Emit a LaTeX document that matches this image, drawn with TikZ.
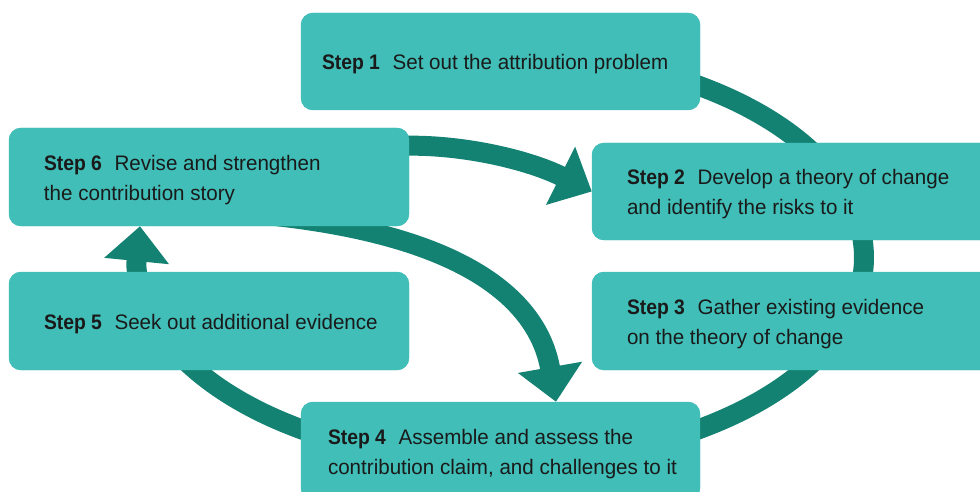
\documentclass[tikz,border=0pt]{standalone}
\usepackage{fontspec}
\setmainfont{Liberation Sans}[FakeStretch=0.98]
\newfontfamily\stepfont{Liberation Sans}[FakeStretch=0.92]
\newcommand\steplabel[1]{{\stepfont\bfseries Step #1}\hspace{0.6em}}
\usetikzlibrary{arrows.meta}
\definecolor{boxfill}{HTML}{40BEB7}
\definecolor{ringcol}{HTML}{148273}
\definecolor{ink}{HTML}{1A1A1A}
\begin{document}
\begin{tikzpicture}[x=1pt,y=-1pt,
  stepbox/.style={fill=boxfill, draw=none, rounded corners=12pt, inner sep=0pt},
  steptext/.style={anchor=west, text=ink, align=left, inner sep=0pt, font=\fontsize{21}{30}\selectfont},
  flowline/.style={draw=ringcol, line width=20pt, line join=round},
  flow/.style={flowline, -{Triangle[length=35pt,width=63pt]}},
]
\useasboundingbox (0,0) rectangle (980,492);
% boxes (positions)
\path (500.5,61.5) node[stepbox, minimum width=399pt, minimum height=97pt] (s1) {};
\path (209,177) node[stepbox, minimum width=400pt, minimum height=98pt] (s6) {};
\path (797,191.5) node[stepbox, minimum width=410pt, minimum height=97pt] (s2) {};
\path (797,321) node[stepbox, minimum width=410pt, minimum height=98pt] (s3) {};
\path (209,321) node[stepbox, minimum width=400pt, minimum height=98pt] (s5) {};
\path (500.5,451) node[stepbox, minimum width=399pt, minimum height=98pt] (s4) {};
% ring: from behind Step 1, clockwise, ending with an arrow up into Step 6
\draw[flow] plot[domain=-80:178, samples=180] ({500+364*cos(\x)},{257.5+205*sin(\x)}) -- ([xshift=-69pt]s6.south);
% arrows out of Step 6
\draw[flow] ([xshift=-14pt,yshift=31pt]s6.east) .. controls (460,143) and (529,160) .. (s2.west);
\draw[flow] ([xshift=-9pt,yshift=16pt]s6.south) .. controls (450,222) and (537,293) .. ([xshift=55.5pt]s4.north);
% redraw boxes on top
\foreach \n in {s1,s2,s3,s4,s5,s6}{
  \fill[boxfill, rounded corners=12pt] (\n.south west) rectangle (\n.north east);
}
% texts
\node[steptext] (t1) at ([xshift=21pt,yshift=-3pt]s1.west) {\steplabel{1}Set out the attribution problem};
\node[steptext] (t6) at ([xshift=35pt,yshift=-3pt]s6.west) {\steplabel{6}Revise and strengthen\\the contribution story};
\node[steptext] (t2) at ([xshift=35pt,yshift=-3pt]s2.west) {\steplabel{2}Develop a theory of change\\and identify the risks to it};
\node[steptext] (t3) at ([xshift=35pt,yshift=-3pt]s3.west) {\steplabel{3}Gather existing evidence\\on the theory of change};
\node[steptext] (t5) at ([xshift=35pt,yshift=-3pt]s5.west) {\steplabel{5}Seek out additional evidence};
\node[steptext] (t4) at ([xshift=27pt,yshift=-3pt]s4.west) {\steplabel{4}Assemble and assess the\\contribution claim, and challenges to it};
\end{tikzpicture}
\end{document}
